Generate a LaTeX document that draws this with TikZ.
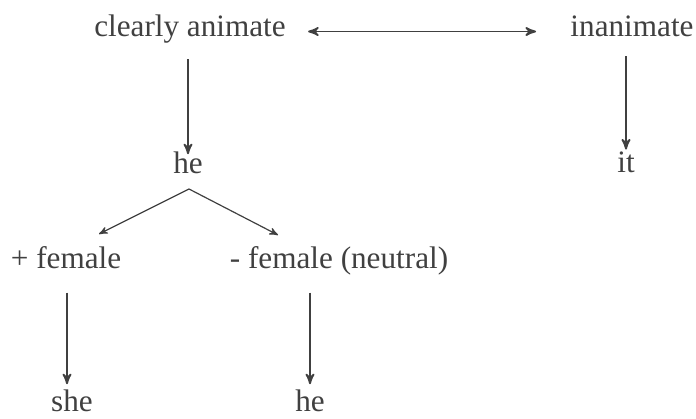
\documentclass[tikz,border=0pt]{standalone}
\usepackage{fontspec}
\setmainfont{Liberation Serif}
\usetikzlibrary{arrows}
\definecolor{ink}{HTML}{404040}

\begin{document}
\begin{tikzpicture}[x=0.5pt,y=-0.5pt,>=stealth',
  word/.style={anchor=base,inner sep=0pt,text=ink,text height=0.7em,text depth=0.25em,
    font=\fontsize{15.6}{18}\selectfont},
  link/.style={draw=ink,line width=0.9pt},
  branch/.style={draw=ink,line width=0.6pt}]
\useasboundingbox (0,0) rectangle (696,418);

% define the words
  \node[word] (an)  at (190,36)  {clearly animate};
  \node[word] (inan) at (632,36) {inanimate};
  \node[word] (he1) at (188,173) {he};
  \node[word] (it)  at (626,172) {it};
  \node[word] (pf)  at (66,268)  {+ female};
  \node[word] (mf)  at (339,268) {- female (neutral)};
  \node[word] (she) at (72,411)  {she};
  \node[word] (he2) at (310,411) {he};

% split points
  \coordinate (split) at (189,189);
  \coordinate (lt) at (99,234);
  \coordinate (rt) at (278,235);

% define the links
  \draw[link,<->,shorten <=11pt,shorten >=17pt] (an.east) -- (inan.west);
  \draw[link,->,shorten <=9pt,shorten >=2.2pt] (he1.north |- an.south) -- (he1.north);
  \draw[link,->,shorten <=7.5pt,shorten >=4pt] (it.north |- inan.south) -- (it.north);
  \draw[branch,->] (split) -- (lt);
  \draw[branch,->] (split) -- (rt);
  \draw[link,->,shorten <=9.6pt,shorten >=6.2pt] ([xshift=0.5pt]pf.south) -- ([xshift=0.5pt]pf.south |- she.north);
  \draw[link,->,shorten <=9.6pt,shorten >=6.2pt] (he2.north |- mf.south) -- (he2.north);

\end{tikzpicture}
\end{document}
